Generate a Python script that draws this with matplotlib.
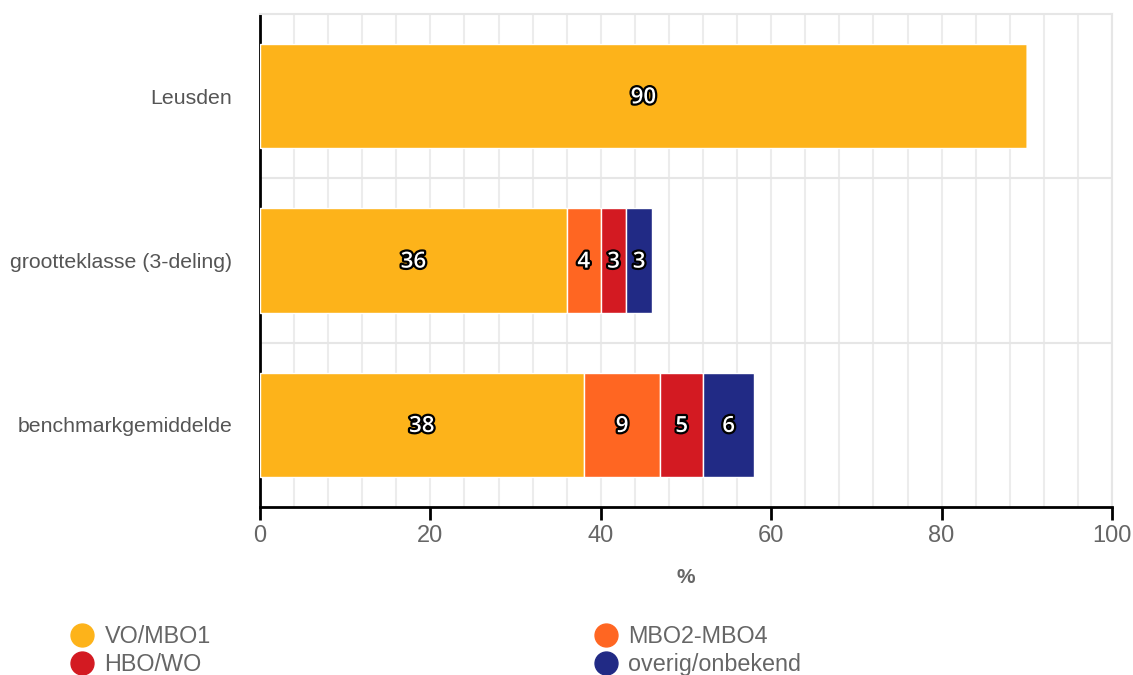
import matplotlib
matplotlib.use("Agg")
import matplotlib.pyplot as plt
import matplotlib.patheffects as pe
from matplotlib.lines import Line2D
import numpy as np

plt.rcParams['font.family'] = ['Liberation Sans', 'DejaVu Sans']

categories = ["Leusden", "grootteklasse (3-deling)", "benchmarkgemiddelde"]
series_names = ["VO/MBO1", "MBO2-MBO4", "HBO/WO", "overig/onbekend"]
vo_mbo1 = [90, 36, 38]
mbo2_mbo4 = [0, 4, 9]
hbo_wo = [0, 3, 5]
overig = [0, 3, 6]
colors = ["#FDB31A", "#FF6622", "#D31A22", "#212A85"]
xticks = [0, 20, 40, 60, 80, 100]

fig = plt.figure(figsize=(11.33, 6.75), dpi=100)
ax = fig.add_axes([260/1133, 1-507/675, (1112-260)/1133, (507-14)/675])

y = np.arange(len(categories))
left = np.zeros(len(categories))
for name, vals, col in zip(series_names, [vo_mbo1, mbo2_mbo4, hbo_wo, overig], colors):
    vals = np.array(vals, dtype=float)
    ax.barh(y, vals, left=left, height=0.635, color=col, edgecolor='white',
            linewidth=1.0, zorder=3)
    for yi, v, l in zip(y, vals, left):
        if v > 0:
            t = ax.text(l + v/2, yi + 0.01, f"{int(v)}", ha='center', va='center', color='white',
                        fontsize=16, fontweight='semibold', zorder=5, family=['Open Sans', 'DejaVu Sans'])
            t.set_path_effects([pe.withStroke(linewidth=3.2, foreground='black')])
    left += vals

ax.set_xlim(0, 100)
ax.set_ylim(2.5, -0.5)
ax.set_yticks(y)
ax.set_yticklabels(categories, fontsize=15.3, color='#555555')
ax.set_xticks(xticks)
ax.set_xticklabels([str(t) for t in xticks], fontsize=17, color='#666666')
ax.set_xticks(np.arange(0, 101, 4), minor=True)
ax.set_yticks([0.5, 1.5], minor=True)
ax.tick_params(axis='y', which='both', length=0, pad=20)
ax.tick_params(axis='x', which='major', length=9, width=2, color='black', pad=4)
ax.tick_params(axis='x', which='minor', length=0)
ax.grid(axis='x', which='both', color='#ececec', linewidth=1.5, zorder=0)
ax.grid(axis='y', which='minor', color='#e6e6e6', linewidth=1.5, zorder=0)

for s in ['top', 'right']:
    ax.spines[s].set_color('#e6e6e6')
    ax.spines[s].set_linewidth(1.5)
ax.spines['left'].set_color('black')
ax.spines['left'].set_linewidth(2)
ax.spines['bottom'].set_color('black')
ax.spines['bottom'].set_linewidth(2)

ax.set_xlabel('%', fontsize=15, fontweight='bold', color='#666666', labelpad=15)

order = [0, 2, 1, 3]
handles = [Line2D([], [], marker='o', linestyle='none', markersize=16.5,
                  markerfacecolor=colors[i], markeredgecolor=colors[i]) for i in order]
labels = [series_names[i] for i in order]
fig.legend(handles, labels, loc='upper left', bbox_to_anchor=(59/1133, 1 - 616/675), ncol=2,
           frameon=False, fontsize=16.8, labelcolor='#666666', handletextpad=0.35,
           columnspacing=16.35, labelspacing=0.2, handlelength=1.2, borderaxespad=0)

fig.savefig('out.png', dpi=100)
